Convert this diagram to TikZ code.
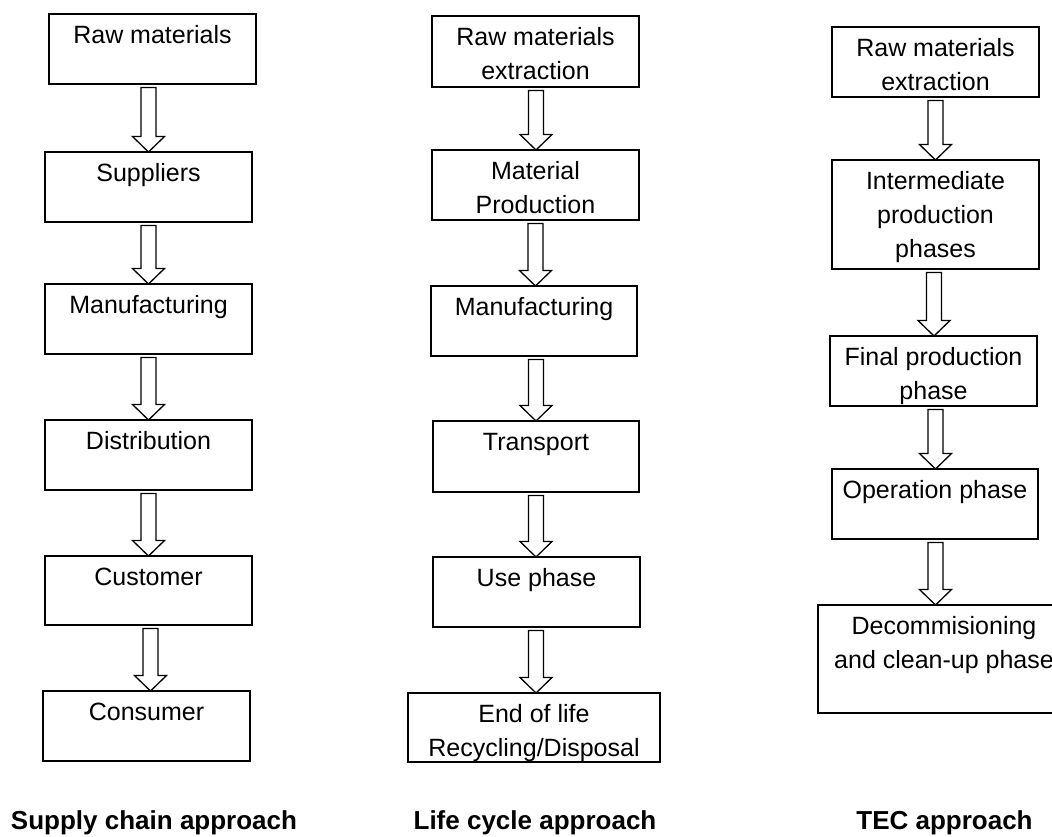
\documentclass[tikz,border=0pt]{standalone}
\usepackage{fontspec}
\setmainfont{Liberation Sans}
\usetikzlibrary{calc}
\tikzset{
  box/.style={draw=black, line width=1.3pt, rectangle, inner sep=0pt, outer sep=0pt},
  txt/.style={anchor=base, inner sep=0pt, font=\fontsize{25}{34}\selectfont},
  ttl/.style={anchor=base, inner sep=0pt, font=\fontsize{26}{30}\selectfont\bfseries},
  arr/.style={draw=black, line width=1.3pt, fill=white, line join=miter},
}
% name, x1, x2, y1, y2, text
\newcommand{\mkbox}[6]{%
  \node[box, minimum width={#3pt-#2pt}, minimum height={#5pt-#4pt}] (#1) at ({(#2+#3)/2},{(#4+#5)/2}) {};
  \node[txt] (#1t) at ($(#1.north)+(0,29)$) {\begin{tabular}[t]{@{}c@{}}#6\end{tabular}};
}
% from, to, x offset
\newcommand{\blockarrow}[3]{%
  \draw[arr] let \p1=(#1.south), \p2=(#2.north) in
    (\x2+#3pt-7.5pt,\y1-3.5pt) -- (\x2+#3pt+7.5pt,\y1-3.5pt) -- (\x2+#3pt+7.5pt,\y2+15.5pt)
    -- (\x2+#3pt+16pt,\y2+15.5pt) -- (\x2+#3pt,\y2) -- (\x2+#3pt-16pt,\y2+15.5pt)
    -- (\x2+#3pt-7.5pt,\y2+15.5pt) -- cycle;
}
\begin{document}
\begin{tikzpicture}[x=1pt, y=-1pt]
\useasboundingbox (0,0) rectangle (1052,836);
% Column 1
\mkbox{ca}{49}{256}{14}{84}{Raw materials}
\mkbox{cb}{45}{252}{152}{222}{Suppliers}
\mkbox{cc}{45}{252}{284}{354}{Manufacturing}
\mkbox{cd}{45}{252}{420}{490}{Distribution}
\mkbox{ce}{45}{252}{556}{625}{Customer}
\mkbox{cf}{43}{250}{691}{761}{Consumer}
\blockarrow{ca}{cb}{0}
\blockarrow{cb}{cc}{0}
\blockarrow{cc}{cd}{0}
\blockarrow{cd}{ce}{0}
\blockarrow{ce}{cf}{4}
% Column 2
\mkbox{la}{432}{639}{16}{87}{Raw materials\\extraction}
\mkbox{lb}{432}{639}{150}{220}{Material\\Production}
\mkbox{lc}{431}{637}{286}{356}{Manufacturing}
\mkbox{ld}{433}{639}{421}{492}{Transport}
\mkbox{le}{433}{640}{557}{627}{Use phase}
\mkbox{lf}{408}{660}{693}{762}{End of life\\Recycling/Disposal}
\blockarrow{la}{lb}{0.5}
\blockarrow{lb}{lc}{1.5}
\blockarrow{lc}{ld}{0}
\blockarrow{ld}{le}{-0.5}
\blockarrow{le}{lf}{2}
% Column 3
\mkbox{ta}{832}{1039}{27}{97}{Raw materials\\extraction}
\mkbox{tb}{832}{1039}{160}{269}{Intermediate\\production\\phases}
\mkbox{tc}{830}{1037}{336}{406}{Final production\\phase}
\mkbox{td}{832}{1038}{469}{539}{Operation phase}
\mkbox{te}{818}{1070}{605}{713}{Decommisioning\\and clean-up phase}
\blockarrow{ta}{tb}{0}
\blockarrow{tb}{tc}{0.5}
\blockarrow{tc}{td}{0.5}
\blockarrow{td}{te}{-8.5}
% Titles
\node[ttl] (t1) at (154,829) {Supply chain approach};
\node[ttl] (t2) at (535,829) {Life cycle approach};
\node[ttl] (t3) at (944.5,829) {TEC approach};
\end{tikzpicture}
\end{document}
